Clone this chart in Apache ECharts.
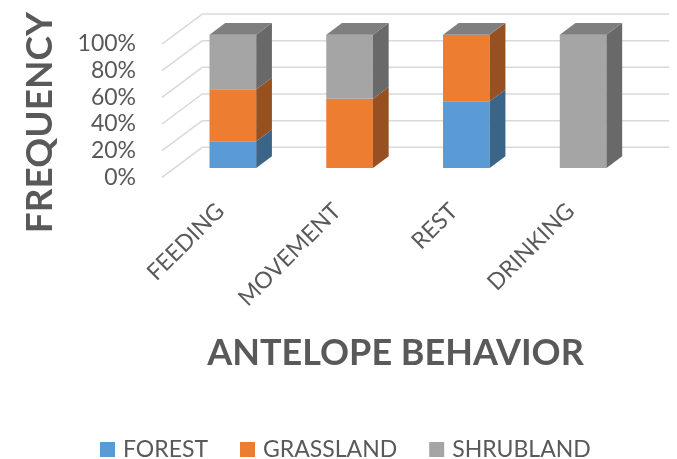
<!DOCTYPE html>
<html><head><meta charset="utf-8">
<script src="https://cdn.jsdelivr.net/npm/echarts@6/dist/echarts.min.js"></script>
<style>html,body{margin:0;padding:0;background:#fff}#c{width:677px;height:459px}</style>
</head><body><div id="c"></div>
<script>
const categories = ['FEEDING', 'MOVEMENT', 'REST', 'DRINKING'];
const forest = [20, 0, 50, 0];
const grassland = [39, 52, 50, 0];
const shrubland = [41, 48, 0, 100];
const yTicks = [0, 20, 40, 60, 80, 100];
const seriesNames = ['FOREST', 'GRASSLAND', 'SHRUBLAND'];
const seriesValues = [forest, grassland, shrubland];

const faceColors = [
  {front: '#5B9BD5', side: '#3B6489', top: '#4A7FB0'},
  {front: '#ED7D31', side: '#975020', top: '#C0652A'},
  {front: '#A5A5A5', side: '#696969', top: '#7F7F7F'}
];
const TXT = '#595959';
const FONT = 'Lato';
const BAR_W = 0.40, FRONT_OFF = 0.107, DEPTH = 0.1345, WALL = 0.345, SLOPE = 0.744;

// stacked data [categoryIndex, base, top]
const stacked = seriesValues.map((vals, s) => vals.map((v, i) => {
  let base = 0;
  for (let k = 0; k < s; k++) base += seriesValues[k][i];
  return [i, base, base + v];
}));

function barRender(sIdx) {
  return function (params, api) {
    const i = api.value(0), b = api.value(1), t = api.value(2);
    const band = api.size([1, 0])[0];
    const pb = api.coord([i, b]), pt = api.coord([i, t]);
    const ox = band * FRONT_OFF, oy = -ox * SLOPE;
    const dx = band * DEPTH, dy = -dx * SLOPE;
    const x0 = pb[0] - band * BAR_W / 2 + ox, x1 = x0 + band * BAR_W;
    const yb = pb[1] + oy, yt = pt[1] + oy;
    const c = faceColors[sIdx];
    const children = [];
    if (yb - yt > 0.01) {
      children.push({type: 'rect', shape: {x: x0, y: yt, width: x1 - x0, height: yb - yt}, style: {fill: c.front}});
      children.push({type: 'polygon', shape: {points: [[x1, yb], [x1 + dx, yb + dy], [x1 + dx, yt + dy], [x1, yt]]}, style: {fill: c.side}});
    }
    if (sIdx === seriesNames.length - 1) {
      children.push({type: 'polygon', shape: {points: [[x0, yt], [x1, yt], [x1 + dx, yt + dy], [x0 + dx, yt + dy]]}, style: {fill: c.top}});
    }
    return {type: 'group', children: children};
  };
}

function wallRender(params, api) {
  const v = api.value(1);
  const band = api.size([1, 0])[0];
  const pL = api.coord([0, v]), pR = api.coord([categories.length - 1, v]);
  const left = pL[0] - band / 2, right = pR[0] + band / 2, y = pL[1];
  const wx = band * WALL, wy = -wx * SLOPE;
  return {type: 'group', children: [
    {type: 'line', shape: {x1: left, y1: y, x2: left + wx, y2: y + wy}, style: {stroke: '#D9D9D9', lineWidth: 1.5}},
    {type: 'line', shape: {x1: left + wx, y1: y + wy, x2: right + wx, y2: y + wy}, style: {stroke: '#D9D9D9', lineWidth: 1.5}}
  ]};
}

const series = [{
  type: 'custom', name: 'wall', renderItem: wallRender, clip: false, silent: true,
  data: yTicks.map(v => [0, v]), encode: {x: 0, y: 1}, z: 1
}];
seriesNames.forEach((n, s) => {
  series.push({
    type: 'custom', name: n, renderItem: barRender(s), clip: false,
    itemStyle: {color: faceColors[s].front},
    data: stacked[s], encode: {x: 0, y: [1, 2]}, z: 2 + s
  });
});

const chart = echarts.init(document.getElementById('c'), null, {renderer: 'canvas'});
chart.setOption({
  animation: false,
  backgroundColor: '#fff',
  textStyle: {fontFamily: FONT},
  grid: {left: 162, top: 44, width: 467, height: 133.3, containLabel: false},
  legend: {
    data: seriesNames.map(n => ({name: n, icon: 'rect'})),
    left: 95, top: 433, itemWidth: 15, itemHeight: 15, itemGap: 32,
    textStyle: {fontFamily: FONT, fontSize: 23, color: TXT, padding: [0, 0, 0, 3]}
  },
  xAxis: {
    type: 'category', data: categories,
    axisLine: {show: false}, axisTick: {show: false}, splitLine: {show: false},
    axisLabel: {rotate: 45, margin: 30, interval: 0, fontFamily: FONT, fontSize: 23, color: TXT},
    name: 'ANTELOPE BEHAVIOR', nameLocation: 'middle', nameGap: 158,
    nameTextStyle: {fontFamily: FONT, fontSize: 36, fontWeight: 'bold', color: TXT}
  },
  yAxis: {
    type: 'value', min: 0, max: 100, interval: 20,
    axisLine: {show: false}, axisTick: {show: false}, splitLine: {show: false},
    axisLabel: {formatter: '{value}%', margin: 26, fontFamily: FONT, fontSize: 23, color: TXT},
    name: 'FREQUENCY', nameLocation: 'middle', nameGap: 103,
    nameTextStyle: {fontFamily: FONT, fontSize: 37, fontWeight: 'bold', color: TXT, padding: [0, 24, 0, 0]}
  },
  series: series
});
</script></body></html>
